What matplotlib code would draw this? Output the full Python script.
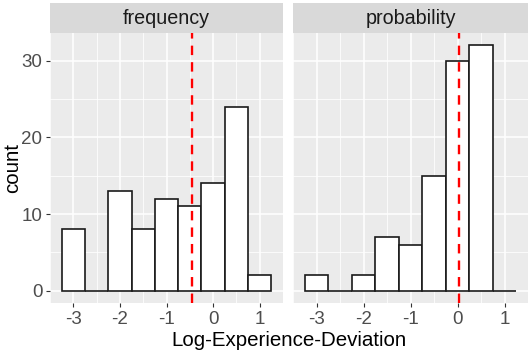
import matplotlib.pyplot as plt

plt.rcParams['font.family'] = ['Liberation Sans', 'DejaVu Sans']
plt.rcParams['axes.unicode_minus'] = False

bin_centers = [-3, -2.5, -2, -1.5, -1, -0.5, 0, 0.5, 1]
frequency_counts = [8, 0, 13, 8, 12, 11, 14, 24, 2]
probability_counts = [2, 0, 2, 7, 6, 15, 30, 32, 0]
panel_names = ["frequency", "probability"]
vline_pos = [-0.45, 0.04]
x_ticks = [-3, -2, -1, 0, 1]
y_ticks = [0, 10, 20, 30]

W, H = 529, 358
fig = plt.figure(figsize=(W / 100, H / 100), dpi=100)

# panel boxes in pixels (left, right)
panels = [(50, 283), (293, 528)]
top, bottom = 33, 303
strip_top = 3

for k, (counts, name, vx) in enumerate(zip([frequency_counts, probability_counts], panel_names, vline_pos)):
    x0, x1 = panels[k]
    ax = fig.add_axes([x0 / W, (H - bottom) / H, (x1 - x0) / W, (bottom - top) / H])
    ax.set_facecolor("#EBEBEB")
    for s in ax.spines.values():
        s.set_visible(False)
    ax.set_xlim(-3.475, 1.475)
    ax.set_ylim(-1.6, 33.6)
    ax.set_xticks(x_ticks)
    ax.set_yticks(y_ticks)
    ax.set_xticks([-3.5, -2.5, -1.5, -0.5, 0.5, 1.5], minor=True)
    ax.set_yticks([5, 15, 25], minor=True)
    ax.grid(True, which="major", color="white", linewidth=1.1)
    ax.grid(True, which="minor", color="white", linewidth=0.55)
    ax.set_axisbelow(True)
    ax.tick_params(which="major", length=3, width=0.8, color="#333333",
                   labelsize=13.5, labelcolor="#4D4D4D", pad=2.5)
    ax.tick_params(which="minor", length=0)
    if k == 1:
        ax.tick_params(axis="y", labelleft=False, length=0)
    ax.bar(bin_centers, counts, width=0.5, color="white", edgecolor="#1a1a1a", linewidth=1.2, zorder=3)
    ax.axvline(vx, color="red", linestyle=(0, (4, 3)), linewidth=1.7, zorder=4)

    # facet strip
    sax = fig.add_axes([x0 / W, (H - top) / H, (x1 - x0) / W, (top - strip_top) / H])
    sax.set_facecolor("#D9D9D9")
    sax.set_xticks([])
    sax.set_yticks([])
    for s in sax.spines.values():
        s.set_visible(False)
    sax.text(0.5, 0.47, name, ha="center", va="center", fontsize=14.2, color="#1A1A1A",
             transform=sax.transAxes)

fig.text((50 + 528) / 2 / W, 1 - 340 / H, "Log-Experience-Deviation", ha="center", va="center", fontsize=14.8)
fig.text(13 / W, 1 - 168 / H, "count", ha="center", va="center", rotation=90, fontsize=14.8)

fig.savefig("out.png", dpi=100)
